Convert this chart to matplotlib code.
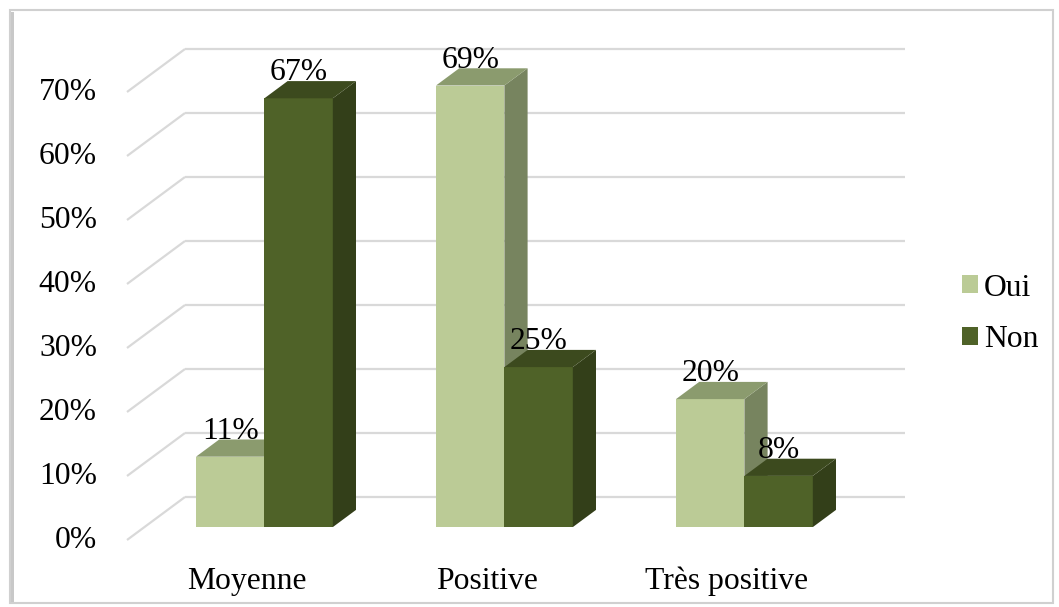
import matplotlib
matplotlib.use("Agg")
import matplotlib.pyplot as plt
from matplotlib.patches import Polygon, Rectangle, Patch

# Data
categories = ["Moyenne", "Positive", "Très positive"]
series_names = ["Oui", "Non"]
oui_values = [11, 69, 20]
non_values = [67, 25, 8]
y_ticks = [0, 10, 20, 30, 40, 50, 60, 70]

# Colours: front, top, side faces
oui_colors = ("#BBCB96", "#8B9B6E", "#77845F")
non_colors = ("#4F6228", "#3C4A1E", "#333F19")
grid_color = "#D9D9D9"

plt.rcParams["font.family"] = ["Liberation Serif", "DejaVu Serif"]
FS = 22.8

W, H = 1059, 607
fig = plt.figure(figsize=(W / 100, H / 100), dpi=100)
ax = fig.add_axes([0, 0, 1, 1])
ax.set_axis_off()

# one category unit = 240 px, 1 % = 6.4 px; origin at front floor of first group
ax.set_xlim(-247 / 240, (W - 247) / 240)
ax.set_ylim(-(H - 540) / 6.4, 540 / 6.4)

# full depth of the 3D box, in data units
DX = 58 / 240
DY = 43 / 6.4
Z_FRONT, Z_BACK = 0.3, 0.7
BAR_W = 0.285
x_left, x_right = -0.5, len(categories) - 0.5

# gridlines: diagonal on the left floor/side, then along the back wall
for t in y_ticks:
    ax.plot([x_left, x_left + DX], [t, t + DY], color=grid_color, lw=1.6, zorder=1,
            solid_capstyle="butt")
    ax.plot([x_left + DX, x_right + DX], [t + DY, t + DY], color=grid_color, lw=1.6,
            zorder=1, solid_capstyle="butt")
    ax.text(x_left - 0.125, t, f"{t}%", ha="right", va="center", fontsize=FS)


def draw_bar(x0, value, colors, z):
    front, top, side = colors
    ox, oy = Z_FRONT * DX, Z_FRONT * DY
    ddx, ddy = (Z_BACK - Z_FRONT) * DX, (Z_BACK - Z_FRONT) * DY
    xl = x0 + ox
    xr = xl + BAR_W
    b = oy
    ax.bar(xl, value, width=BAR_W, bottom=b, align="edge", color=front,
           linewidth=0, zorder=z)
    ax.add_patch(Polygon([(xr, b), (xr + ddx, b + ddy), (xr + ddx, b + value + ddy),
                          (xr, b + value)], closed=True, facecolor=side,
                         edgecolor="none", zorder=z))
    ax.add_patch(Polygon([(xl, b + value), (xr, b + value), (xr + ddx, b + value + ddy),
                          (xl + ddx, b + value + ddy)], closed=True, facecolor=top,
                         edgecolor="none", zorder=z))
    ax.text(xl + BAR_W / 2, b + value + ddy + 0.1, f"{value}%", ha="center",
            va="baseline", fontsize=FS, zorder=z + 0.5)


for i in range(len(categories)):
    draw_bar(i - BAR_W, oui_values[i], oui_colors, 2 + 2 * i)
    draw_bar(i, non_values[i], non_colors, 3 + 2 * i)
    ax.text(i, -6.5, categories[i], ha="center", va="center", fontsize=FS)

handles = [Patch(facecolor=oui_colors[0], label=series_names[0]),
           Patch(facecolor=non_colors[0], label=series_names[1])]
fig.legend(handles=handles, loc="center left", bbox_to_anchor=(962 / W, 1 - 314 / H),
           frameon=False, fontsize=FS, handlelength=0.5, handleheight=0.5,
           handletextpad=0.2, labelspacing=0.72, borderaxespad=0, borderpad=0)

# chart border
fig.patches.append(Rectangle((10 / W, 1 - 603 / H), 1043 / W, 593 / H,
                             transform=fig.transFigure, fill=False,
                             edgecolor="#D0D0D0", lw=1.5))
fig.patches.append(Rectangle((11 / W, 1 - 602 / H), 2.5 / W, 590 / H,
                             transform=fig.transFigure, facecolor="#C8C8C8",
                             edgecolor="none"))

fig.savefig("out.png", dpi=100)
